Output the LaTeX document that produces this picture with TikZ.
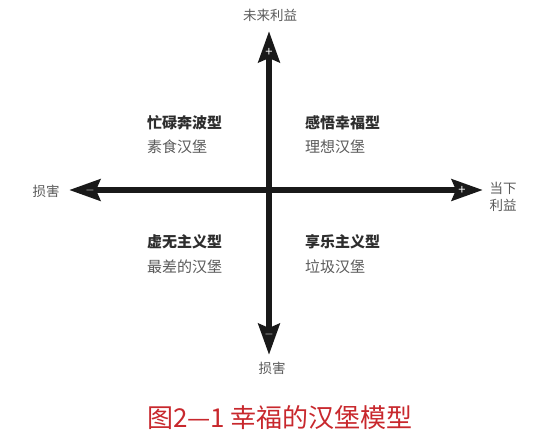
\documentclass[tikz,border=0pt]{standalone}
\usepackage{fontspec}
\setmainfont{Noto Sans CJK SC}
\usepackage{tikz}
\usetikzlibrary{arrows.meta}
\definecolor{label-gray}{RGB}{90,90,90}
\definecolor{title-dark}{RGB}{45,45,45}
\definecolor{axis-black}{RGB}{25,25,25}
\definecolor{caption-red}{RGB}{200,40,45}
\tikzstyle{axis}=[draw=axis-black, line width=6.5pt, {Stealth[length=31pt,width=21pt,inset=4pt]}-{Stealth[length=31pt,width=21pt,inset=4pt]}]
\tikzstyle{axislabel}=[text=label-gray, font=\fontsize{13.5}{17}\selectfont, inner sep=0pt]
\tikzstyle{quadtitle}=[text=title-dark, font=\fontsize{15}{18}\selectfont\bfseries, inner sep=0pt, anchor=west]
\tikzstyle{burger}=[text=label-gray, font=\fontsize{15}{18}\selectfont, inner sep=0pt, anchor=west]
\tikzstyle{sign}=[text=white, font=\fontsize{13}{13}\selectfont, inner sep=0pt]
\tikzstyle{figcaption}=[text=caption-red, font=\fontsize{26}{30}\selectfont, inner sep=0pt]

\begin{document}
\begin{tikzpicture}[x=1pt, y=-1pt]
	\useasboundingbox (0,0) rectangle (559,445);
	% axis ends
	\coordinate (up) at (269,31);
	\coordinate (down) at (269,355);
	\coordinate (left) at (69,190);
	\coordinate (right) at (483,190);
	\draw[axis] (down) -- (up);
	\draw[axis] (left) -- (right);
	\node[sign] (plusup) at (269,52) {+};
	\node[sign] (minusdown) at (269,334) {$-$};
	\node[sign] (minusleft) at (90,190) {$-$};
	\node[sign] (plusright) at (462,190) {+};
	% axis labels
	\node[axislabel] (future) at (270,15) {未来利益};
	\node[axislabel] (harmdown) at (272,368) {损害};
	\node[axislabel] (harmleft) at (46,191) {损害};
	\node[axislabel, align=left] (now) at (503,197) {当下\\利益};
	% quadrants
	\node[quadtitle] (busy) at (147,123) {忙碌奔波型};
	\node[burger] (veggie) at (147,147) {素食汉堡};
	\node[quadtitle] (happy) at (305,123) {感悟幸福型};
	\node[burger] (ideal) at (305,147) {理想汉堡};
	\node[quadtitle] (nihil) at (147,242) {虚无主义型};
	\node[burger] (worst) at (147,267) {最差的汉堡};
	\node[quadtitle] (hedon) at (305,242) {享乐主义型};
	\node[burger] (junk) at (305,267) {垃圾汉堡};
	\node[figcaption] (title) at (280,418) {图2—1 幸福的汉堡模型};
\end{tikzpicture}
\end{document}
